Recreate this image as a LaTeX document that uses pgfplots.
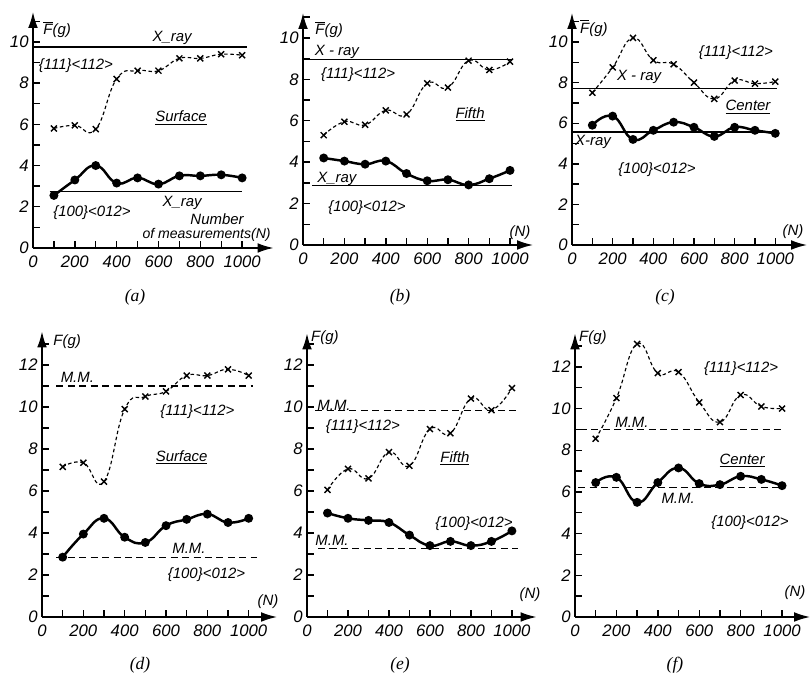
\documentclass[border=0pt]{standalone}
\usepackage{fontspec}
\setmainfont{Liberation Sans}
\newfontfamily\capfont{Liberation Serif}
\usepackage{pgfplots}
\pgfplotsset{compat=1.18}
\usetikzlibrary{arrows.meta}

\pgfplotsset{
  panel/.style={
    scale only axis, anchor=south west, clip=false,
    axis x line=bottom, axis y line=left, xmin=0, ymin=0,
    axis line style={line width=0.9pt, -{Latex[length=9pt,width=5.5pt]}},
    xtick={0,200,...,1000}, minor xtick={100,300,...,900},
    ytick={0,2,...,12}, minor ytick={1,3,...,13},
    xtick align=inside, ytick align=inside,
    major tick length=4pt, minor tick length=4pt,
    tick style={draw=black, line width=0.8pt},
    tick label style={font=\fontsize{9.5}{10}\selectfont\itshape},
    /pgf/number format/assume math mode=true,
    /pgf/number format/1000 sep={},
    xticklabel style={yshift=-1pt},
    yticklabel style={xshift=1pt},
  },
  upper/.style={black, line width=0.65pt, dash pattern=on 2pt off 1.5pt,
    smooth, tension=0.8, mark=x, mark size=2.4pt,
    mark options={solid, line width=0.8pt}},
  lower/.style={black, line width=1.4pt, smooth, tension=0.8,
    mark=*, mark size=1.8pt, mark options={solid}},
  xref/.style={black, line width=0.8pt},
  mmref/.style={black, line width=0.7pt, dash pattern=on 4pt off 2.5pt},
}
\tikzset{lbl/.style={font=\fontsize{8.5}{9}\selectfont\itshape, inner sep=1pt},
         subcap/.style={font=\capfont\fontsize{10}{11}\selectfont\itshape}}

% small tick marks every 100 along N and every unit along F
\newcommand\axticks[1]{%
  \pgfplotsinvokeforeach{100,200,...,1000}{\draw[line width=0.8pt] (axis cs:##1,0) -- ++(0pt,4pt);}%
  \pgfplotsinvokeforeach{1,...,#1}{\draw[line width=0.8pt] (axis cs:0,##1) -- ++(4pt,0pt);}%
}

\begin{document}
\begin{tikzpicture}
\useasboundingbox (0,0) rectangle (16.22,13.66);

% ---------------- (a) Surface, X-ray ----------------
\begin{axis}[panel, at={(0.66cm,8.70cm)}, width=4.81cm, height=4.72cm,
  xmax=1150, ymax=11.45]
\axticks{11}
\addplot[xref] coordinates {(0,9.75) (1025,9.75)};
\addplot[xref] coordinates {(80,2.75) (1000,2.75)};
\addplot[upper] coordinates {(100,5.8) (200,5.95) (300,5.77) (400,8.2) (500,8.6)
  (600,8.6) (700,9.2) (800,9.2) (900,9.4) (1000,9.35)};
\addplot[lower] coordinates {(100,2.55) (200,3.3) (300,4.0) (400,3.15) (500,3.4)
  (600,3.1) (700,3.5) (800,3.5) (900,3.55) (1000,3.4)};
\node[lbl, anchor=west] at (axis cs:40,10.6) {$\overline{\mbox{F}}$(g)};
\node[lbl] at (axis cs:665,10.2) {X\_ray};
\node[lbl] at (axis cs:205,8.85) {\{111\}<112>};
\node[lbl] at (axis cs:708,6.3) {\underline{Surface}};
\node[lbl] at (axis cs:713,2.2) {X\_ray};
\node[lbl] at (axis cs:282,1.7) {\{100\}<012>};
\node[lbl] at (axis cs:880,1.38) {Number};
\node[lbl, font=\fontsize{8}{9}\selectfont\itshape] at (axis cs:830,0.66) {of measurements(N)};
\end{axis}
\node[subcap] at (2.70,7.72) {(a)};

% ---------------- (b) Fifth, X-ray ----------------
\begin{axis}[panel, at={(6.06cm,8.76cm)}, width=4.60cm, height=4.64cm,
  xmax=1111, ymax=11.2]
\axticks{11}
\addplot[xref] coordinates {(0,8.95) (1010,8.95)};
\addplot[xref] coordinates {(45,2.87) (1010,2.87)};
\addplot[upper] coordinates {(100,5.3) (200,5.95) (300,5.8) (400,6.5) (500,6.3)
  (600,7.8) (700,7.6) (800,8.9) (900,8.45) (1000,8.85)};
\addplot[lower] coordinates {(100,4.2) (200,4.05) (300,3.9) (400,4.05) (500,3.45)
  (600,3.1) (700,3.15) (800,2.9) (900,3.2) (1000,3.6)};
\node[lbl, anchor=west] at (axis cs:50,10.4) {$\overline{\mbox{F}}$(g)};
\node[lbl] at (axis cs:164,9.3) {X - ray};
\node[lbl] at (axis cs:266,8.2) {\{111\}<112>};
\node[lbl] at (axis cs:807,6.3) {\underline{Fifth}};
\node[lbl] at (axis cs:164,3.2) {X\_ray};
\node[lbl] at (axis cs:309,1.8) {\{100\}<012>};
\node[lbl] at (axis cs:1048,0.6) {(N)};
\end{axis}
\node[subcap] at (8.00,7.72) {(b)};

% ---------------- (c) Center, X-ray ----------------
\begin{axis}[panel, at={(11.44cm,8.76cm)}, width=4.70cm, height=4.64cm,
  xmax=1156, ymax=11.43]
\axticks{11}
\addplot[xref] coordinates {(0,7.7) (1010,7.7)};
\addplot[xref] coordinates {(0,5.57) (1010,5.57)};
\addplot[upper] coordinates {(100,7.5) (200,8.75) (300,10.2) (400,9.1) (500,8.9)
  (600,8.0) (700,7.2) (800,8.1) (900,7.95) (1000,8.05)};
\addplot[lower] coordinates {(100,5.9) (200,6.35) (300,5.2) (400,5.65) (500,6.05)
  (600,5.8) (700,5.35) (800,5.8) (900,5.65) (1000,5.5)};
\node[lbl, anchor=west] at (axis cs:30,10.7) {$\overline{\mbox{F}}$(g)};
\node[lbl] at (axis cs:806,9.5) {\{111\}<112>};
\node[lbl] at (axis cs:330,8.3) {X - ray};
\node[lbl] at (axis cs:866,6.8) {\underline{Center}};
\node[lbl] at (axis cs:103,5.07) {X-ray};
\node[lbl] at (axis cs:418,3.7) {\{100\}<012>};
\node[lbl] at (axis cs:1087,0.64) {(N)};
\end{axis}
\node[subcap] at (13.30,7.72) {(c)};

% ---------------- (d) Surface, M.M. ----------------
\begin{axis}[panel, at={(0.84cm,1.32cm)}, width=4.70cm, height=5.71cm,
  xmax=1137, ymax=13.6]
\axticks{13}
\addplot[mmref] coordinates {(70,11.0) (1020,11.0)};
\addplot[mmref] coordinates {(70,2.85) (1040,2.85)};
\addplot[upper] coordinates {(100,7.15) (200,7.35) (300,6.45) (400,9.9) (500,10.5)
  (600,10.75) (700,11.5) (800,11.5) (900,11.8) (1000,11.5)};
\addplot[lower] coordinates {(100,2.85) (200,3.95) (300,4.7) (400,3.8) (500,3.55)
  (600,4.35) (700,4.65) (800,4.9) (900,4.5) (1000,4.7)};
\node[lbl, anchor=west] at (axis cs:45,13.1) {F(g)};
\node[lbl] at (axis cs:171,11.4) {M.M.};
\node[lbl] at (axis cs:752,9.8) {\{111\}<112>};
\node[lbl] at (axis cs:676,7.6) {\underline{Surface}};
\node[lbl] at (axis cs:711,3.25) {M.M.};
\node[lbl] at (axis cs:796,2.0) {\{100\}<012>};
\node[lbl] at (axis cs:1093,0.75) {(N)};
\end{axis}
\node[subcap] at (2.80,0.36) {(d)};

% ---------------- (e) Fifth, M.M. ----------------
\begin{axis}[panel, at={(6.14cm,1.32cm)}, width=4.59cm, height=5.67cm,
  xmax=1120, ymax=13.5]
\axticks{13}
\addplot[mmref] coordinates {(40,9.84) (1030,9.84)};
\addplot[mmref] coordinates {(54,3.25) (1030,3.25)};
\addplot[upper] coordinates {(100,6.05) (200,7.05) (300,6.6) (400,7.85) (500,7.2)
  (600,8.95) (700,8.75) (800,10.4) (900,9.85) (1000,10.9)};
\addplot[lower] coordinates {(100,4.95) (200,4.7) (300,4.6) (400,4.5) (500,3.9)
  (600,3.4) (700,3.6) (800,3.4) (900,3.6) (1000,4.1)};
\node[lbl, anchor=west] at (axis cs:10,13.3) {F(g)};
\node[lbl] at (axis cs:132,10.1) {M.M.};
\node[lbl] at (axis cs:273,9.05) {\{111\}<112>};
\node[lbl] at (axis cs:722,7.55) {\underline{Fifth}};
\node[lbl] at (axis cs:815,4.45) {\{100\}<012>};
\node[lbl] at (axis cs:122,3.65) {M.M.};
\node[lbl] at (axis cs:1088,1.05) {(N)};
\end{axis}
\node[subcap] at (8.00,0.36) {(e)};

% ---------------- (f) Center, M.M. ----------------
\begin{axis}[panel, at={(11.50cm,1.32cm)}, width=4.70cm, height=5.67cm,
  xmax=1135, ymax=13.6]
\axticks{13}
\addplot[mmref] coordinates {(24,9.0) (1005,9.0)};
\addplot[mmref] coordinates {(15,6.2) (1005,6.2)};
\addplot[upper] coordinates {(100,8.55) (200,10.5) (300,13.1) (400,11.7) (500,11.75)
  (600,10.3) (700,9.35) (800,10.65) (900,10.1) (1000,10.0)};
\addplot[lower] coordinates {(100,6.45) (200,6.7) (300,5.5) (400,6.45) (500,7.15)
  (600,6.4) (700,6.35) (800,6.75) (900,6.6) (1000,6.3)};
\node[lbl, anchor=west] at (axis cs:10,13.4) {F(g)};
\node[lbl] at (axis cs:802,11.9) {\{111\}<112>};
\node[lbl] at (axis cs:275,9.35) {M.M.};
\node[lbl] at (axis cs:807,7.5) {\underline{Center}};
\node[lbl] at (axis cs:498,5.7) {M.M.};
\node[lbl] at (axis cs:845,4.55) {\{100\}<012>};
\node[lbl] at (axis cs:1063,1.15) {(N)};
\end{axis}
\node[subcap] at (13.50,0.36) {(f)};
\end{tikzpicture}
\end{document}
